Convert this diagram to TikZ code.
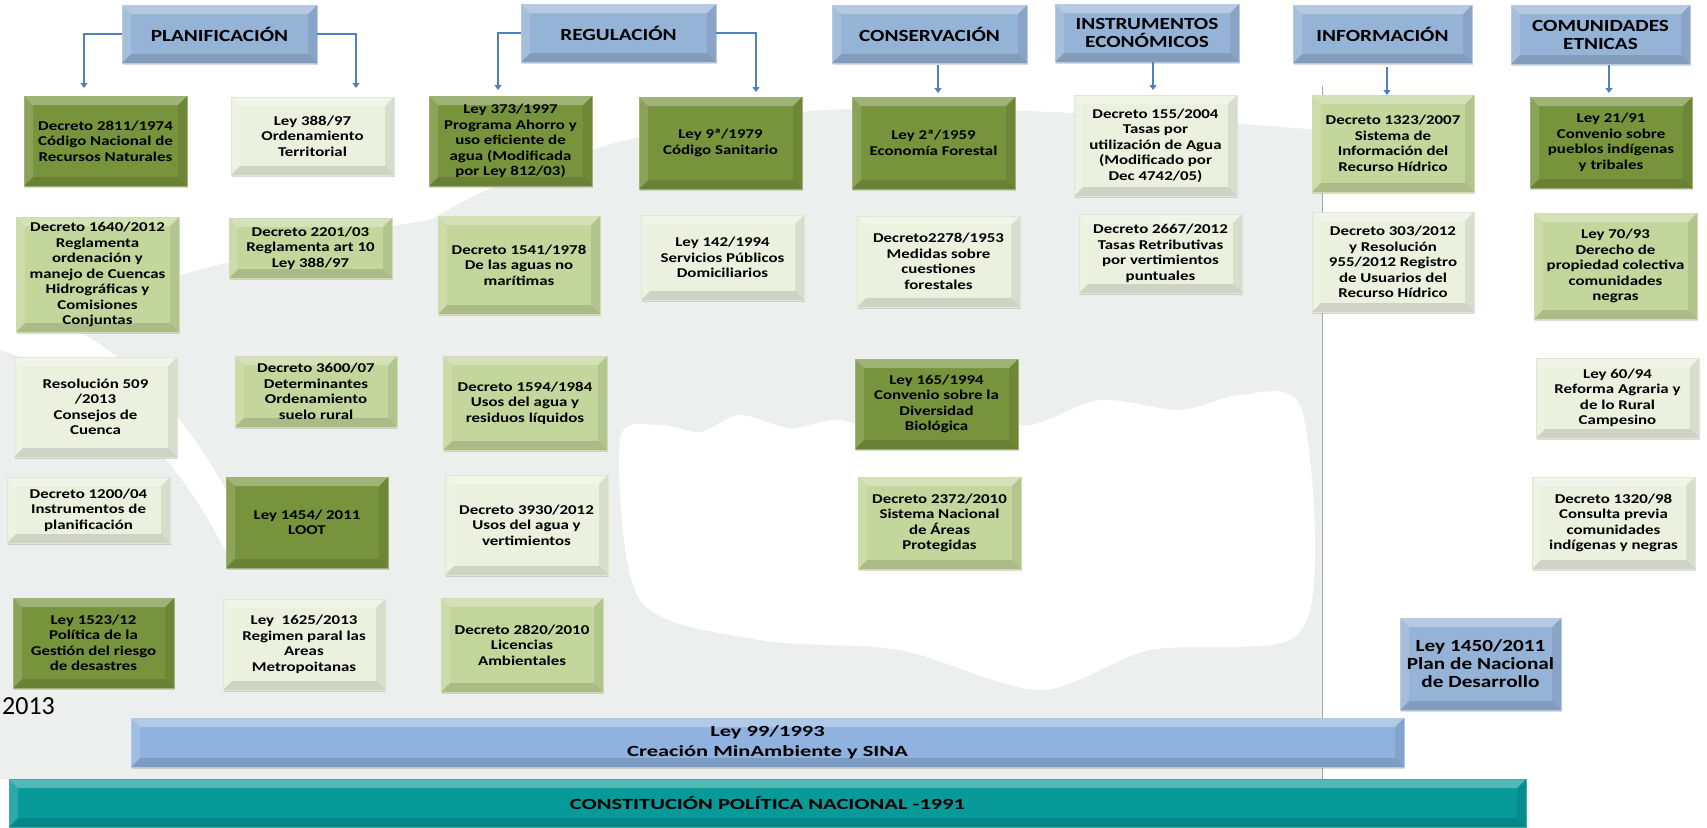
\documentclass[tikz,border=0pt]{standalone}
\usepackage{fontspec}
\setmainfont{Carlito}[FakeStretch=1.25]
\newfontfamily\barfont{Carlito}[FakeStretch=1.45]
\newfontfamily\yearfont{Carlito}
\usetikzlibrary{arrows.meta,shadows}

\definecolor{hdrblue}{HTML}{95B3D7}
\definecolor{barblue}{HTML}{8FB2DE}
\definecolor{darkolive}{HTML}{77933C}
\definecolor{midgreen}{HTML}{C3D69B}
\definecolor{palegreen}{HTML}{EBF1DE}
\definecolor{tealbar}{HTML}{079A98}
\definecolor{linkblue}{HTML}{4F81BD}
\definecolor{wmgray}{HTML}{EDEEEE}

\tikzset{
	bevel/.style={path picture={
		\fill[white,opacity=.3] (path picture bounding box.north west) -- (path picture bounding box.north east)
			-- ([shift={(-9pt,-9pt)}]path picture bounding box.north east) -- ([shift={(9pt,-9pt)}]path picture bounding box.north west) -- cycle;
		\fill[white,opacity=.15] (path picture bounding box.north west) -- (path picture bounding box.south west)
			-- ([shift={(9pt,9pt)}]path picture bounding box.south west) -- ([shift={(9pt,-9pt)}]path picture bounding box.north west) -- cycle;
		\fill[black,opacity=.08] (path picture bounding box.north east) -- (path picture bounding box.south east)
			-- ([shift={(-9pt,9pt)}]path picture bounding box.south east) -- ([shift={(-9pt,-9pt)}]path picture bounding box.north east) -- cycle;
		\fill[black,opacity=.12] (path picture bounding box.south west) -- (path picture bounding box.south east)
			-- ([shift={(-9pt,9pt)}]path picture bounding box.south east) -- ([shift={(9pt,9pt)}]path picture bounding box.south west) -- cycle;
	}},
	base/.style={rectangle,inner sep=0pt,align=center,line width=0.6pt,bevel,
		font=\fontsize{13.5}{15.5}\selectfont\bfseries,
		drop shadow={shadow xshift=1pt,shadow yshift=-2pt,opacity=.3}},
	sz/.style 2 args={minimum width=#1pt,minimum height=#2pt},
	dark/.style={base,fill=darkolive,draw=darkolive!70!white},
	mid/.style={base,fill=midgreen,draw=midgreen!80!white},
	pale/.style={base,fill=palegreen,draw=palegreen!90!gray},
	hdr/.style={base,fill=hdrblue,draw=hdrblue!70!white,font=\fontsize{17}{18}\selectfont\bfseries},
	link/.style={draw=linkblue,line width=1.2pt,-{Triangle[width=7pt,length=5pt]}},
}

\begin{document}
\begin{tikzpicture}[x=1pt,y=-1pt]
	\useasboundingbox (0,0) rectangle (1707,827);
	% watermark
	\fill[wmgray] (0,330) .. controls (150,280) and (300,240) .. (430,220) .. controls (600,120) and (800,100) .. (1000,110)
		.. controls (1150,115) and (1250,125) .. (1322,130) -- (1322,779) -- (0,779) -- cycle;
	\fill[white] plot[smooth cycle] coordinates {(620,440) (660,425) (700,432) (740,415) (790,428) (840,420) (900,440)
		(960,418) (1030,425) (1100,400) (1180,410) (1240,395) (1300,405)
		(1315,560) (1290,640) (1150,650) (1040,690) (900,650) (760,640) (640,600)};
	\fill[white] (0,300) .. controls (120,330) and (200,420) .. (260,560) -- (230,560) .. controls (170,440) and (100,380) .. (0,350) -- cycle;
	\draw[gray!70,line width=0.8pt] (1322,86) -- (1322,779);

	% headers
	\node[hdr,sz={195}{58}] (plan) at (219.5,34) {PLANIFICACIÓN};
	\node[hdr,sz={195}{58}] (regu) at (618.5,33) {REGULACIÓN};
	\node[hdr,sz={195}{58}] (cons) at (929.5,34) {CONSERVACIÓN};
	\node[hdr,sz={184}{58}] (inst) at (1147,33) {INSTRUMENTOS\\ECONÓMICOS};
	\node[hdr,sz={179}{58}] (info) at (1382.5,34) {INFORMACIÓN};
	\node[hdr,sz={179}{59}] (comu) at (1600.5,34.5) {COMUNIDADES\\ETNICAS};

	% planificacion
	\node[dark,sz={163}{90}] (p1) at (105.5,141) {Decreto 2811/1974\\Código Nacional de\\Recursos Naturales};
	\node[mid,sz={163}{115}] (p2) at (97.5,274.5) {Decreto 1640/2012\\Reglamenta\\ordenación y\\manejo de Cuencas\\Hidrográficas y\\Comisiones\\Conjuntas};
	\node[pale,sz={163}{100}] (p3) at (95.5,407) {Resolución 509\\/2013\\Consejos de\\Cuenca};
	\node[pale,sz={163}{66}] (p4) at (88.5,510) {Decreto 1200/04\\Instrumentos de\\planificación};
	\node[dark,sz={161}{90}] (p5) at (93.5,643) {Ley 1523/12\\Política de la\\Gestión del riesgo\\de desastres};
	\node[pale,sz={163}{78}] (q1) at (312.5,136) {Ley 388/97\\Ordenamiento\\Territorial};
	\node[mid,sz={163}{60}] (q2) at (310.5,248) {Decreto 2201/03\\Reglamenta art 10\\Ley 388/97};
	\node[mid,sz={162}{71}] (q3) at (316,391.5) {Decreto 3600/07\\Determinantes\\Ordenamiento\\suelo rural};
	\node[dark,sz={162}{91}] (q4) at (307,522.5) {Ley 1454/ 2011\\LOOT};
	\node[pale,sz={162}{91}] (q5) at (304,644.5) {Ley \ 1625/2013\\Regimen paral las\\Areas\\Metropoitanas};

	% regulacion
	\node[dark,sz={163}{90}] (r1) at (510.5,141) {Ley 373/1997\\Programa Ahorro y\\uso eficiente de\\agua (Modificada\\por Ley 812/03)};
	\node[mid,sz={162}{98}] (r2) at (519,265) {Decreto 1541/1978\\De las aguas no\\marítimas};
	\node[mid,sz={164}{94}] (r3) at (525,403) {Decreto 1594/1984\\Usos del agua y\\residuos líquidos};
	\node[pale,sz={163}{100}] (r4) at (526.5,525) {Decreto 3930/2012\\Usos del agua y\\vertimientos};
	\node[mid,sz={162}{94}] (r5) at (522,645) {Decreto 2820/2010\\Licencias\\Ambientales};
	\node[dark,sz={163}{92}] (s1) at (720.5,143) {Ley 9ª/1979\\Código Sanitario};
	\node[pale,sz={163}{85}] (s2) at (722.5,257.5) {Ley 142/1994\\Servicios Públicos\\Domiciliarios};

	% conservacion
	\node[dark,sz={163}{92}] (c1) at (933.5,143) {Ley 2ª/1959\\Economía Forestal};
	\node[pale,sz={163}{91}] (c2) at (938.5,261.5) {Decreto2278/1953\\Medidas sobre\\cuestiones\\forestales};
	\node[dark,sz={163}{90}] (c3) at (936.5,404) {Ley 165/1994\\Convenio sobre la\\Diversidad\\Biológica};
	\node[mid,sz={163}{92}] (c4) at (939.5,523) {Decreto 2372/2010\\Sistema Nacional\\de Áreas\\Protegidas};

	% instrumentos
	\node[pale,sz={163}{101}] (e1) at (1155.5,145.5) {Decreto 155/2004\\Tasas por\\utilización de Agua\\(Modificado por\\Dec 4742/05)};
	\node[pale,sz={163}{79}] (e2) at (1160.5,253.5) {Decreto 2667/2012\\Tasas Retributivas\\por vertimientos\\puntuales};

	% informacion
	\node[mid,sz={162}{97}] (i1) at (1393,143.5) {Decreto 1323/2007\\Sistema de\\Información del\\Recurso Hídrico};
	\node[pale,sz={162}{100}] (i2) at (1393,262) {Decreto 303/2012\\y Resolución\\955/2012 Registro\\de Usuarios del\\Recurso Hídrico};

	% comunidades
	\node[dark,sz={162}{91}] (k1) at (1611,142.5) {Ley 21/91\\Convenio sobre\\pueblos indígenas\\y tribales};
	\node[mid,sz={163}{106}] (k2) at (1615.5,266) {Ley 70/93\\Derecho de\\propiedad colectiva\\comunidades\\negras};
	\node[pale,sz={163}{80}] (k3) at (1617.5,398) {Ley 60/94\\Reforma Agraria y\\de lo Rural\\Campesino};
	\node[pale,sz={163}{92}] (k4) at (1613.5,523) {Decreto 1320/98\\Consulta previa\\comunidades\\indígenas y negras};

	\node[base,fill=hdrblue,draw=hdrblue!70!white,sz={161}{92},font=\fontsize{17}{18}\selectfont\bfseries] (pnd) at (1480.5,664) {Ley 1450/2011\\Plan de Nacional\\de Desarrollo};

	\node[font=\yearfont\fontsize{26}{28}\selectfont,anchor=west,inner sep=0pt] (yr) at (2,706) {2013};

	% bases
	\node[base,fill=barblue,draw=barblue!70!white,sz={1273}{49},font=\barfont\fontsize{15.5}{20}\selectfont\bfseries] (ley99) at (767.5,742.5) {Ley 99/1993\\Creación MinAmbiente y SINA};
	\node[base,fill=tealbar,draw=tealbar!80!white,sz={1517}{48},font=\barfont\fontsize{15.5}{18}\selectfont\bfseries] (cpn) at (767.5,803) {CONSTITUCIÓN POLÍTICA NACIONAL -1991};

	% connectors
	\coordinate (pA) at (84,88);
	\coordinate (pB) at (356,88);
	\coordinate (rA) at (498,90);
	\coordinate (rB) at (756,92);
	\coordinate (cA) at (938,93);
	\coordinate (eA) at (1153,90);
	\coordinate (iA) at (1387,95);
	\coordinate (kA) at (1609,93);
	\draw[link] (plan.west) -| (pA);
	\draw[link] (plan.east) -| (pB);
	\draw[link] (regu.west) -| (rA);
	\draw[link] (regu.east) -| (rB);
	\draw[link] ([yshift=-2pt]cons.south -| cA) -- (cA);
	\draw[link] (inst.south -| eA) -- (eA);
	\draw[link] ([yshift=-4pt]info.south -| iA) -- (iA);
	\draw[link] ([yshift=-1pt]comu.south -| kA) -- (kA);
\end{tikzpicture}
\end{document}
